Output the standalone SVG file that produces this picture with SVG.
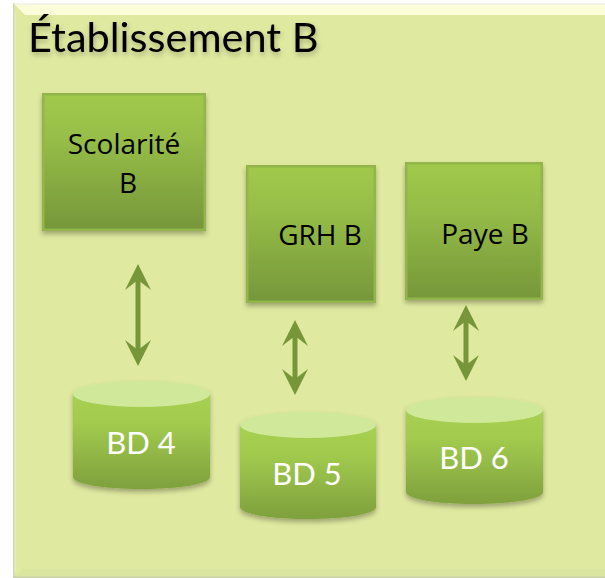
<svg xmlns="http://www.w3.org/2000/svg" width="605" height="578" viewBox="0 0 605 578">
<style>
.t{font-family:"Lato","Open Sans","Liberation Sans",sans-serif}
.o{font-family:"Open Sans","Lato","Liberation Sans",sans-serif}
.box{fill:url(#boxg);stroke:#93b54c;stroke-width:2.500;filter:url(#sh)}
.body{fill:url(#cylg)}
.top{fill:#d0e89a}
.lbl{font-size:28px;fill:#000}
.bd{font-size:31px;fill:#fff}
.conn{stroke:#77963a;stroke-width:5;fill:none;marker-start:url(#ah);marker-end:url(#ah)}
</style>
<defs>
<linearGradient id="boxg" x1="0" y1="0" x2="0" y2="1"><stop offset="0" stop-color="#a0c94c"/><stop offset="0.3" stop-color="#97bf48"/><stop offset="1" stop-color="#76973a"/></linearGradient>
<linearGradient id="cylg" x1="0" y1="0" x2="0" y2="1"><stop offset="0" stop-color="#a8d052"/><stop offset="0.3" stop-color="#a2cb4e"/><stop offset="1" stop-color="#7fa03d"/></linearGradient>
<filter id="sh" x="-15%" y="-15%" width="130%" height="130%"><feDropShadow dx="0" dy="3" stdDeviation="2.500" flood-color="#000" flood-opacity="0.3"/></filter>
<filter id="ts" x="-5%" y="-20%" width="110%" height="150%"><feDropShadow dx="1" dy="3" stdDeviation="2.500" flood-color="#000" flood-opacity="0.25"/></filter>
<marker id="ah" viewBox="0 0 26 26" refX="14" refY="13" markerWidth="26" markerHeight="26" markerUnits="userSpaceOnUse" orient="auto-start-reverse"><path d="M26 13L0 0L10 13L0 26Z" fill="#77963a"/></marker>
</defs>
<g id="panel">
<rect x="13" y="3" width="592" height="575" fill="#dfe99f"/>
<path d="M13 3H605V15H25Z" fill="#fbfcd8"/>
<path d="M13 3H605V5H13Z" fill="#f4f5e6"/>
<path d="M13 3L16 15V570L13 577Z" fill="#e6eeb6"/>
<path d="M13 577L23 569H605V577Z" fill="#dae5a0"/>
<rect x="13" y="3" width="1.500" height="575" fill="#d3d8bc"/>
<rect x="13" y="576.500" width="592" height="1.500" fill="#c9cfa8"/>
<text class="t" x="28" y="52" font-size="41.500" fill="#000" filter="url(#ts)">Établissement B</text>
</g>
<g id="connectors">
<path class="conn" d="M138 276V354"/>
<path class="conn" d="M295 332V383"/>
<path class="conn" d="M466 317V369"/>
</g>
<g id="scolarite"><rect class="box" x="43.250" y="94.250" width="161.500" height="135.500"/><text class="o lbl" text-anchor="middle" x="124" y="154">Scolarité</text><text class="o lbl" text-anchor="middle" x="128" y="193">B</text></g>
<g id="grh"><rect class="box" x="247.250" y="166.250" width="127.500" height="135.500"/><text class="o lbl" text-anchor="middle" x="320" y="245">GRH B</text></g>
<g id="paye"><rect class="box" x="406.250" y="163.250" width="135.500" height="135.500"/><text class="o lbl" text-anchor="middle" x="485" y="244">Paye B</text></g>
<g id="bd4"><g filter="url(#sh)"><path class="body" d="M73 394V477C73 484 104 489 141.500 489S210 484 210 477V394Z"/><ellipse class="top" cx="141.500" cy="394" rx="68.500" ry="13"/></g><text class="t bd" text-anchor="middle" x="141" y="454">BD 4</text></g>
<g id="bd5"><g filter="url(#sh)"><path class="body" d="M240 425V507C240 514 270 519 308 519S376 514 376 507V425Z"/><ellipse class="top" cx="308" cy="425" rx="68" ry="13"/></g><text class="t bd" text-anchor="middle" x="307" y="485">BD 5</text></g>
<g id="bd6"><g filter="url(#sh)"><path class="body" d="M406 410V492C406 499 436 504 474.500 504S543 499 543 492V410Z"/><ellipse class="top" cx="474.500" cy="410" rx="68.500" ry="13"/></g><text class="t bd" text-anchor="middle" x="474" y="469">BD 6</text></g>
</svg>
